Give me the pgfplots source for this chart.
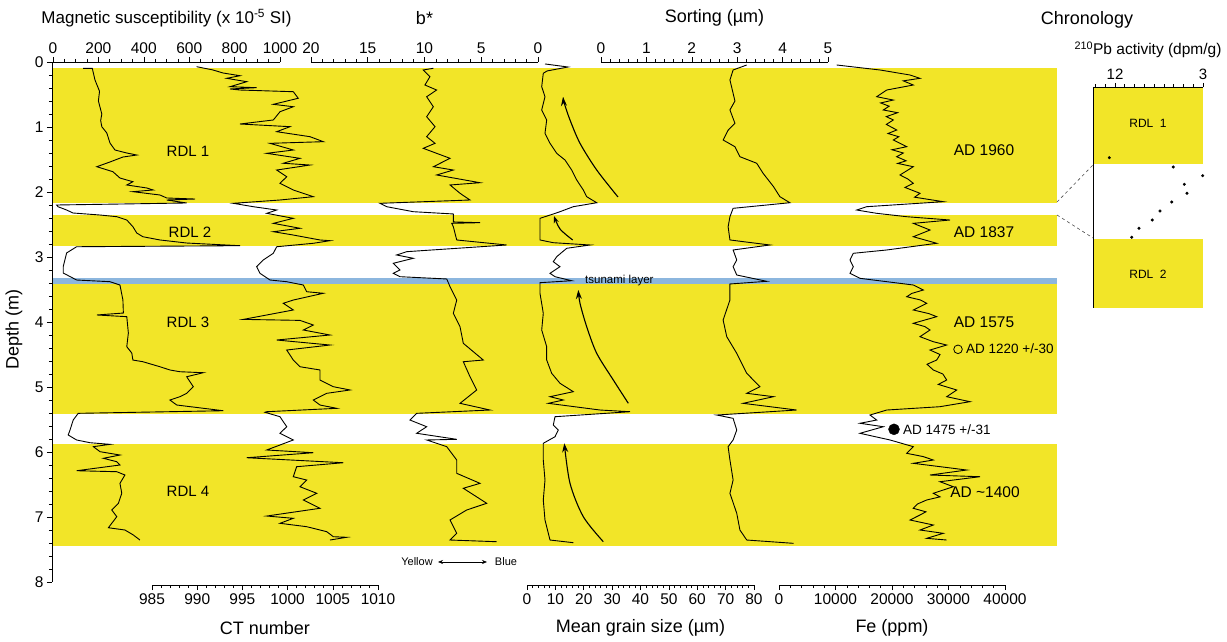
\documentclass[border=0pt]{standalone}
\usepackage{fontspec}
\setmainfont{Liberation Sans}
\usepackage{pgfplots}
\pgfplotsset{compat=1.18}
\usetikzlibrary{arrows.meta}
\definecolor{bandyellow}{RGB}{242,229,40}
\definecolor{tsublue}{RGB}{140,182,222}
\newcommand{\tl}{\fontsize{15.5}{17}\selectfont}
\newcommand{\ttl}{\fontsize{18}{20}\selectfont}
\pgfplotsset{
  varax/.style={scale only axis, anchor=south west, width=227pt, height=523pt,
    ymin=0, ymax=8.046, y dir=reverse, axis y line=none, clip=false,
    scaled x ticks=false,
    tick style={black, line width=0.6pt}, axis line style={black, line width=0.6pt},
    xticklabel style={font=\tl}, label style={font=\ttl},
    /pgf/number format/assume math mode=true, /pgf/number format/1000 sep={}},
  topax/.style={axis x line*=top, tick align=outside, major tick length=5pt, minor tick length=3pt,
    xlabel style={at={(axis description cs:0.5,1.084)}, anchor=center}},
  botax/.style={axis x line*=bottom, tick align=outside, major tick length=5pt, minor tick length=3pt,
    xlabel style={at={(axis description cs:0.5,-0.082)}, anchor=center}},
  curve/.style={black, line width=0.9pt, mark=none},
}
\begin{document}
\begin{tikzpicture}
\path[use as bounding box] (0pt,0pt) rectangle (1227pt,642pt);
% ---------------- main depth axis with lithology bands
\begin{axis}[scale only axis, anchor=south west, at={(52pt,60pt)}, width=1005pt, height=520pt,
  xmin=0, xmax=1, ymin=0, ymax=8, y dir=reverse,
  axis x line=none, axis y line*=left, ytick={0,...,8}, minor y tick num=4,
  tick align=outside, major tick length=5pt, minor tick length=3pt,
  tick style={black, line width=0.6pt}, axis line style={black, line width=0.6pt},
  yticklabel style={font=\tl}, ylabel={Depth (m)},
  ylabel style={font=\ttl, at={(axis description cs:-0.0378,0.485)}, anchor=center},
  axis on top, clip=false, /pgf/number format/assume math mode=true]
\addplot[fill=bandyellow, draw=none] coordinates {(0,0.087) (1,0.087) (1,2.172) (0,2.172)} --cycle;
\addplot[fill=bandyellow, draw=none] coordinates {(0,2.354) (1,2.354) (1,2.83) (0,2.83)} --cycle;
\addplot[fill=tsublue, draw=none] coordinates {(0,3.32) (1,3.32) (1,3.41) (0,3.41)} --cycle;
\addplot[fill=bandyellow, draw=none] coordinates {(0,3.41) (1,3.41) (1,5.415) (0,5.415)} --cycle;
\addplot[fill=bandyellow, draw=none] coordinates {(0,5.87) (1,5.87) (1,7.45) (0,7.45)} --cycle;
\end{axis}
% ---------------- magnetic susceptibility
\begin{axis}[varax, topax, at={(53pt,57pt)}, xmin=0, xmax=1000, xtick={0,200,...,1000}, minor x tick num=3,
  xlabel={Magnetic susceptibility (x 10\textsuperscript{-5} SI)}, xlabel style={font=\fontsize{17}{19}\selectfont}]
\addplot[curve] coordinates {(133,0.097) (173,0.097) (185,0.277) (205,0.45) (200,0.6) (215,0.8) (210,0.9) (215,0.995) (237,1.092) (251,1.246) (273,1.354) (325,1.4) (369,1.431) (308,1.462) (251,1.538) (193,1.611) (264,1.688) (295,1.785) (352,1.842) (325,1.892) (413,1.938) (441,1.969) (352,1.995) (471,2.046) (501,2.092) (626,2.108) (501,2.123) (589,2.169) (16,2.2) (22,2.226) (60,2.277) (88,2.323) (207,2.354) (281,2.38) (325,2.431) (352,2.534) (369,2.631) (396,2.688) (471,2.738) (589,2.785) (824,2.826) (104,2.842) (60,2.938) (45,3.149) (45,3.246) (104,3.354) (251,3.38) (295,3.431) (308,3.662) (310,3.862) (193,3.892) (325,3.918) (332,4.169) (325,4.38) (347,4.477) (352,4.585) (396,4.611) (471,4.688) (515,4.738) (559,4.765) (662,4.78) (589,4.842) (618,4.995) (589,5.097) (559,5.149) (515,5.2) (545,5.277) (750,5.365) (111,5.405) (89,5.508) (75,5.662) (67,5.738) (104,5.815) (163,5.857) (251,5.882) (178,5.918) (207,5.995) (295,6.046) (222,6.097) (281,6.149) (295,6.2) (104,6.288) (281,6.303) (317,6.354) (295,6.482) (303,6.635) (288,6.789) (259,6.892) (281,6.995) (244,7.165) (317,7.2) (354,7.277) (383,7.354)};
\end{axis}
% ---------------- CT number
\begin{axis}[varax, botax, at={(152pt,57pt)}, width=226pt, xmin=985, xmax=1010, xtick={985,990,...,1010}, minor x tick num=4,
  xlabel={CT number}]
\addplot[curve] coordinates {(989.94,0.072) (991.75,0.123) (992.85,0.169) (994.73,0.211) (993.26,0.251) (995.48,0.303) (993.63,0.38) (996.58,0.395) (993.63,0.415) (994.73,0.431) (1000.63,0.457) (1001.18,0.558) (998.42,0.651) (1000.63,0.688) (999.16,0.765) (998.42,0.892) (994.73,0.954) (1000.27,0.995) (998.79,1.072) (1002.48,1.149) (1003.95,1.226) (998.05,1.251) (1000.63,1.354) (997.69,1.405) (1001.37,1.482) (999.52,1.558) (1002.48,1.585) (998.79,1.662) (999.9,1.765) (999.16,1.866) (1000.63,1.969) (1002.84,2.072) (999.16,2.123) (993.99,2.174) (996.2,2.226) (998.79,2.277) (997.69,2.328) (1000.63,2.405) (998.42,2.482) (1001.37,2.558) (998.42,2.611) (1000.63,2.662) (1003.58,2.738) (1004.69,2.749) (1002.84,2.789) (998.79,2.842) (998.42,2.943) (997.31,3.046) (996.58,3.149) (996.95,3.251) (998.05,3.354) (999.9,3.38) (1001.74,3.431) (1002.11,3.534) (1003.95,3.558) (1000.63,3.662) (999.52,3.712) (1000.63,3.815) (995.1,3.96) (1001.37,3.975) (1002.84,4.046) (1001.74,4.123) (1004.69,4.2) (998.79,4.277) (1004.69,4.354) (999.9,4.431) (1000.63,4.585) (1001.37,4.688) (1003.58,4.738) (1003.58,4.892) (1005.06,4.995) (1006.9,5.046) (1004.33,5.097) (1002.84,5.2) (1003.58,5.277) (1005.43,5.328) (997.69,5.38) (997.5,5.389) (999.16,5.457) (999.9,5.611) (999.16,5.712) (1000.63,5.815) (997.69,5.969) (1002.84,6.011) (995.48,6.088) (1006.16,6.165) (1001.0,6.226) (1000.63,6.38) (1002.11,6.431) (1001.37,6.534) (1003.22,6.635) (1001.74,6.738) (1003.58,6.866) (997.69,6.985) (1000.63,7.02) (999.16,7.097) (1002.11,7.149) (1004.33,7.226) (1005.06,7.303) (1006.54,7.312) (1004.69,7.354)};
\end{axis}
% ---------------- b*
\begin{axis}[varax, topax, at={(311pt,57pt)}, xmin=0, xmax=20, x dir=reverse, xtick={0,5,...,20}, minor x tick num=4,
  xlabel={b*}]
\addplot[curve] coordinates {(9.22,0.097) (10.11,0.123) (9.52,0.226) (9.96,0.354) (8.93,0.431) (9.81,0.534) (9.22,0.688) (9.81,0.842) (9.07,0.995) (9.81,1.149) (9.07,1.251) (10.11,1.328) (8.93,1.405) (7.75,1.482) (9.22,1.611) (7.46,1.662) (8.93,1.738) (5.11,1.857) (7.75,1.892) (6.87,2.02) (5.99,2.123) (13.92,2.174) (13.33,2.226) (10.99,2.303) (7.46,2.338) (7.46,2.46) (5.11,2.472) (7.6,2.482) (7.46,2.534) (7.16,2.738) (2.76,2.815) (11.57,2.918) (12.45,2.969) (10.99,3.02) (12.75,3.097) (12.16,3.2) (12.75,3.251) (12.16,3.303) (8.04,3.338) (7.75,3.457) (7.16,3.662) (7.46,3.866) (6.87,4.072) (6.58,4.328) (4.82,4.585) (6.58,4.611) (5.99,4.842) (5.4,5.046) (6.87,5.251) (4.23,5.354) (10.69,5.405) (11.28,5.508) (9.81,5.611) (10.69,5.712) (7.16,5.805) (9.81,5.815) (8.04,5.918) (7.16,6.123) (7.16,6.328) (5.11,6.482) (6.58,6.558) (4.52,6.789) (6.28,6.892) (7.75,7.046) (7.16,7.251) (7.75,7.354) (3.64,7.38)};
\end{axis}
% ---------------- mean grain size
\begin{axis}[varax, botax, at={(527pt,57pt)}, xmin=0, xmax=80, xtick={0,10,...,80}, minor x tick num=4,
  xlabel={Mean grain size (µm)}]
\addplot[curve] coordinates {(6.34,0.03) (14.45,0.077) (7.05,0.138) (5.74,0.174) (5.18,0.38) (6.34,0.534) (5.18,0.738) (6.94,0.892) (6.34,1.097) (8.11,1.251) (10.47,1.405) (13.39,1.508) (15.75,1.662) (17.52,1.815) (19.84,1.969) (21.04,2.072) (24.56,2.165) (16.32,2.226) (11.63,2.303) (9.27,2.338) (4.58,2.405) (4.58,2.738) (9.27,2.78) (22.2,2.815) (13.99,2.866) (10.47,2.995) (9.27,3.072) (11.63,3.149) (8.11,3.251) (9.87,3.303) (15.75,3.365) (4.58,3.395) (4.58,3.558) (5.74,3.866) (5.18,4.123) (6.94,4.38) (6.94,4.585) (8.7,4.789) (11.63,4.943) (16.32,5.072) (8.11,5.149) (12.79,5.2) (7.51,5.251) (25.73,5.354) (36.3,5.38) (9.87,5.457) (9.27,5.585) (11.03,5.662) (9.87,5.765) (5.74,5.866) (5.74,6.123) (6.34,6.431) (5.74,6.738) (6.34,7.046) (8.11,7.354) (16.32,7.395)};
\end{axis}
% ---------------- sorting
\begin{axis}[varax, topax, at={(601pt,57pt)}, xmin=0, xmax=5, xtick={0,...,5}, minor x tick num=4,
  xlabel={Sorting (µm)}]
\addplot[curve] coordinates {(3.21,0.046) (2.91,0.123) (2.84,0.277) (2.91,0.482) (2.95,0.6) (2.84,0.738) (2.95,0.943) (2.8,1.05) (2.69,1.2) (2.95,1.303) (3.06,1.457) (3.43,1.558) (3.57,1.712) (3.80,1.918) (3.94,2.072) (4.16,2.165) (2.91,2.251) (2.84,2.38) (2.80,2.534) (2.84,2.738) (3.72,2.815) (2.91,2.892) (2.99,3.046) (2.91,3.149) (2.99,3.277) (3.65,3.374) (2.84,3.415) (2.84,3.662) (2.69,3.969) (2.77,4.226) (2.99,4.482) (3.21,4.789) (3.50,4.995) (3.21,5.097) (3.80,5.149) (3.13,5.251) (4.31,5.354) (2.55,5.431) (2.91,5.482) (2.99,5.662) (2.91,5.815) (2.80,5.918) (2.84,6.123) (2.91,6.431) (2.84,6.635) (2.99,6.943) (3.06,7.2) (3.21,7.354) (4.24,7.405)};
\end{axis}
% ---------------- Fe
\begin{axis}[varax, botax, at={(779pt,57pt)}, width=226pt, xmin=0, xmax=40000, xtick={0,10000,...,40000}, minor x tick num=4,
  xlabel={Fe (ppm)}]
\addplot[curve] coordinates {(10212,0.046) (17876,0.123) (23186,0.2) (24956,0.251) (22000,0.29) (23770,0.354) (19062,0.431) (17292,0.534) (20230,0.585) (18000,0.63) (19500,0.68) (18460,0.738) (21000,0.78) (19000,0.84) (20230,0.892) (19000,0.96) (20832,1.046) (19300,1.1) (21200,1.15) (20230,1.2) (22602,1.303) (20000,1.35) (22000,1.4) (20832,1.457) (22500,1.52) (21000,1.56) (23770,1.611) (21416,1.738) (22800,1.8) (23770,1.866) (22300,1.93) (24956,2.02) (24000,2.08) (29080,2.149) (15522,2.226) (13752,2.277) (17292,2.328) (22602,2.38) (30265,2.431) (23770,2.482) (26725,2.585) (23770,2.688) (27911,2.789) (19062,2.892) (13150,2.943) (12566,3.046) (13150,3.149) (12566,3.251) (14336,3.328) (23770,3.431) (25540,3.508) (23500,3.56) (22602,3.611) (25000,3.66) (26142,3.712) (23770,3.815) (26500,3.87) (27911,3.918) (23770,4.02) (25800,4.07) (26725,4.123) (24956,4.226) (27310,4.303) (29681,4.354) (26725,4.431) (28500,4.5) (27911,4.585) (26200,4.65) (27310,4.738) (29000,4.8) (29681,4.892) (28200,4.96) (31451,5.046) (29681,5.149) (33805,5.226) (28495,5.303) (19062,5.354) (16106,5.431) (17292,5.508) (14336,5.558) (18460,5.611) (14336,5.712) (19646,5.815) (23770,5.918) (22602,6.02) (25500,6.07) (27310,6.123) (23770,6.174) (28000,6.22) (33221,6.277) (26725,6.354) (35575,6.38) (28495,6.457) (30850,6.534) (27310,6.635) (28500,6.69) (26142,6.738) (24500,6.8) (23770,6.866) (26000,6.92) (24956,6.969) (23186,7.046) (27310,7.123) (24956,7.2) (29080,7.251) (26142,7.328) (29681,7.354)};
\addplot[only marks, mark=o, mark size=4.3pt, mark options={black, line width=0.8pt}] coordinates {(31683,4.42)};
\addplot[only marks, mark=*, mark size=5.5pt, mark options={black}] coordinates {(20354,5.651)};
\end{axis}
% ---------------- chronology inset
\begin{axis}[scale only axis, anchor=south west, at={(1093pt,334pt)}, width=110pt, height=221pt,
  xmin=3, xmax=14.25, x dir=reverse, ymin=0, ymax=22.1, y dir=reverse,
  axis x line*=top, axis y line*=left, xtick={3,12}, minor xtick={4,5,...,11,13,14},
  ytick=\empty, minor ytick={0,1,...,22},
  tick align=outside, major tick length=4pt, minor tick length=2.5pt,
  tick style={black, line width=0.6pt}, axis line style={black, line width=0.6pt},
  xticklabel style={font=\fontsize{15}{16}\selectfont},
  xlabel={\textsuperscript{210}Pb activity (dpm/g)},
  xlabel style={font=\fontsize{15.5}{17}\selectfont, at={(axis description cs:0.5,1.167)}, anchor=center},
  axis on top, clip=false, /pgf/number format/assume math mode=true]
\addplot[fill=bandyellow, draw=none] coordinates {(3,0) (14.25,0) (14.25,7.7) (3,7.7)} --cycle;
\addplot[fill=bandyellow, draw=none] coordinates {(3,15.2) (14.25,15.2) (14.25,22.1) (3,22.1)} --cycle;
\addplot[only marks, mark=*, mark size=1.3pt, black] coordinates {(12.58,7.07) (6.04,8.0) (3.03,8.87) (4.91,9.73) (4.64,10.63) (6.2,11.5) (7.4,12.4) (8.19,13.3) (9.55,14.13) (10.29,15.03)};
\end{axis}
% ---------------- annotations
\draw[black, line width=1.1pt, -{Stealth[length=9pt,width=6pt]}] plot[smooth] coordinates {(618pt,445pt) (596.7pt,472pt) (580pt,498.7pt) (570pt,522pt) (564.3pt,538.7pt) (563pt,545pt)};
\draw[black, line width=1.1pt, -{Stealth[length=7pt,width=5pt]}] plot[smooth] coordinates {(572.7pt,402pt) (560pt,413pt) (554pt,426pt)};
\draw[black, line width=1.1pt, -{Stealth[length=9pt,width=6pt]}] plot[smooth] coordinates {(628.3pt,238.7pt) (613.3pt,262pt) (596.7pt,288.7pt) (586.7pt,315.3pt) (580pt,338.7pt) (578.3pt,352pt)};
\draw[black, line width=1.1pt, -{Stealth[length=9pt,width=6pt]}] plot[smooth] coordinates {(603.3pt,100.3pt) (583.3pt,125.3pt) (570pt,158.7pt) (564.3pt,198.7pt)};
\begin{scope}[every node/.style={font=\fontsize{15}{16}\selectfont}]
\node at (188pt,491pt) {RDL 1};
\node at (190pt,410pt) {RDL 2};
\node at (188pt,320pt) {RDL 3};
\node at (188pt,151pt) {RDL 4};
\end{scope}
\begin{scope}[every node/.style={font=\fontsize{15.5}{17}\selectfont}]
\node at (984pt,492pt) {AD 1960};
\node at (984pt,410pt) {AD 1837};
\node at (984pt,320pt) {AD 1575};
\node at (985pt,150pt) {AD {\char`~}1400};
\end{scope}
\node[anchor=west, font=\fontsize{13.5}{15}\selectfont, inner sep=0pt] at (966pt,293pt) {AD 1220 +/-30};
\node[anchor=west, font=\fontsize{13.5}{15}\selectfont, inner sep=0pt] at (903pt,212pt) {AD 1475 +/-31};
\node[anchor=west, font=\fontsize{11.5}{13}\selectfont, inner sep=0pt] at (585pt,361pt) {tsunami layer};
\node[font=\fontsize{11}{12}\selectfont] at (417pt,80pt) {Yellow};
\draw[black, line width=0.6pt, {Stealth[length=5pt,width=4pt]}-{Stealth[length=5pt,width=4pt]}] (438pt,80pt) -- (487pt,80pt);
\node[font=\fontsize{11}{12}\selectfont] at (506pt,80pt) {Blue};
\node[font=\ttl] at (1087pt,622pt) {Chronology};
\begin{scope}[every node/.style={font=\fontsize{12}{13}\selectfont}]
\node at (1148pt,519pt) {RDL~~1};
\node at (1148pt,368pt) {RDL~~2};
\end{scope}
\draw[dashed, gray!60!black, line width=0.6pt] (1057pt,440pt) -- (1093pt,477pt);
\draw[dashed, gray!60!black, line width=0.6pt] (1057pt,427pt) -- (1093pt,404pt);
\end{tikzpicture}
\end{document}
